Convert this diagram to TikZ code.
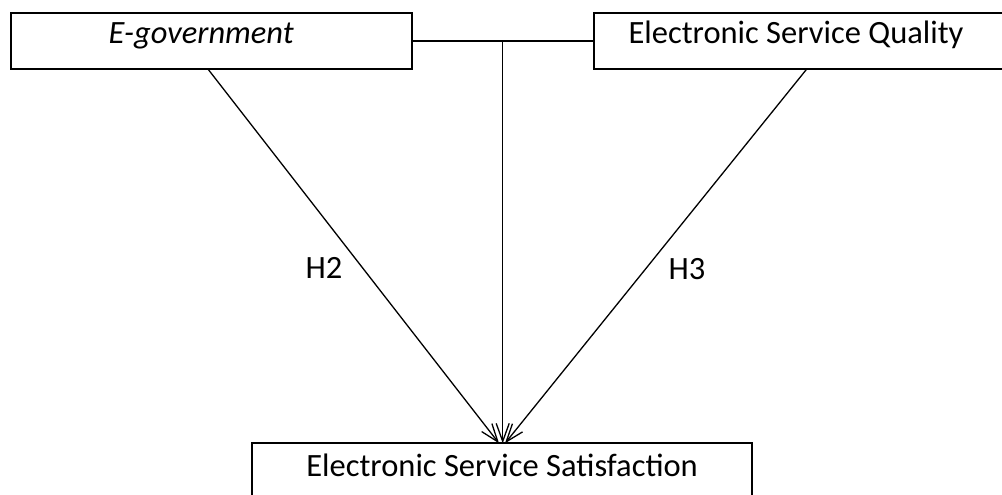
\documentclass[tikz,border=0pt]{standalone}
\usepackage{fontspec}
\setmainfont{Carlito}
\usetikzlibrary{arrows.meta}
\begin{document}
\begin{tikzpicture}[x=1pt,y=-1pt,
  box/.style={draw=black,line width=2pt,rectangle,inner sep=0pt,
    font=\fontsize{32.5}{39}\selectfont,text height=14pt,text depth=9.4pt},
  arr/.style={line width=1.3pt,-{Straight Barb[length=18pt,width=13pt,line width=1.3pt]}},
  lab/.style={font=\fontsize{32.5}{39}\selectfont,inner sep=0pt}]
\useasboundingbox (0,0) rectangle (1002,495);
\begin{scope}
\clip (0,0) rectangle (1002,495);
\node[box,minimum width=401pt,minimum height=56.3pt] (eg) at (211.2,40.9) {\hspace*{-20pt}\itshape E-government};
\node[box,minimum width=410pt,minimum height=56.3pt] (esq) at (799,40.9) {\hspace*{-6pt}Electronic Service Quality};
\node[box,minimum width=499.7pt,minimum height=60pt,text height=16pt,text depth=9.2pt] (ess) at (502.1,473.3) {Electronic Service Satisfaction};
\end{scope}
\draw[line width=2pt] (eg.east) -- (esq.west);
\coordinate (m) at (502.7,40.9);
\coordinate (a1) at (208,69.1);
\coordinate (a3) at (806.7,69.1);
\coordinate (t1) at (499,443.3);
\coordinate (t2) at (502.7,443.3);
\coordinate (t3) at (505,443.3);
\draw[arr] (a1) -- (t1);
\draw[arr] (m) -- (t2);
\draw[arr] (a3) -- (t3);
\node[lab] (h2) at (324,268) {H2};
\node[lab] (h3) at (687,269) {H3};
\end{tikzpicture}
\end{document}
